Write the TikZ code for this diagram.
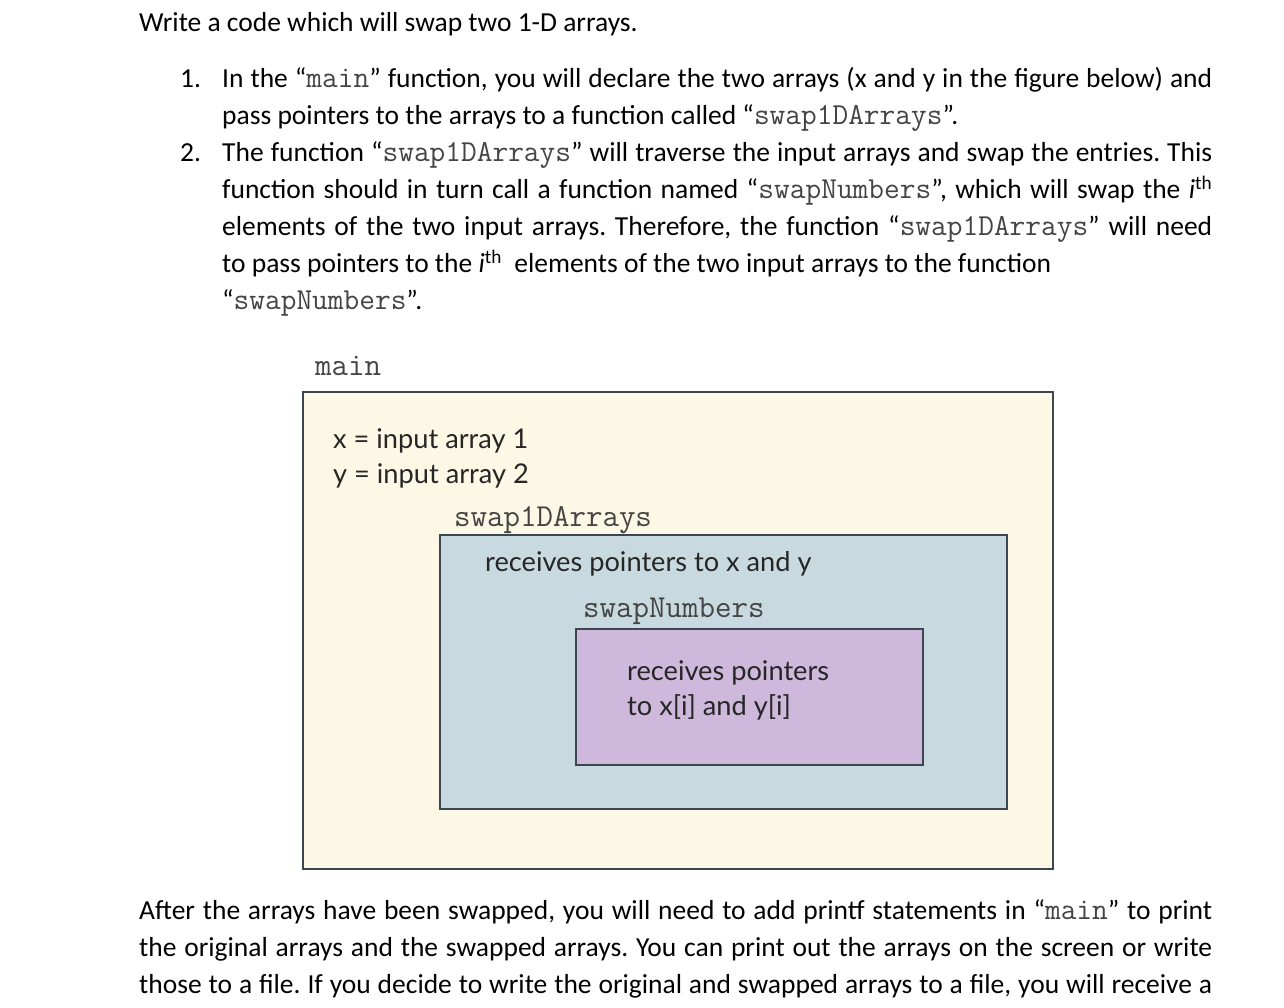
\documentclass[tikz,border=0pt]{standalone}
\usepackage{fontspec}
\setmainfont{Carlito}
\newfontfamily\boxfont{Lato}
\frenchspacing
\definecolor{beige}{HTML}{FDF8E6}
\definecolor{bluegray}{HTML}{C8DAE0}
\definecolor{lilac}{HTML}{CEB8DC}
\definecolor{edge}{HTML}{3C4650}
\definecolor{monogray}{HTML}{444444}
\newcommand{\cc}[1]{{\fontsize{30.5}{37}\ttfamily\color{monogray}#1}}
\begin{document}
\begin{tikzpicture}[x=1pt,y=-1pt,
  body/.style={anchor=base west,inner sep=0pt,font=\fontsize{27.5}{37}\selectfont},
  para/.style={body,text width=#1,align=justify},
  lbl/.style={anchor=base west,inner sep=0pt,font=\fontsize{32}{34}\ttfamily,text=monogray},
  inbox/.style={anchor=base west,inner sep=0pt,font=\fontsize{27.2}{35}\boxfont,text=black!85},
  frame/.style={draw=edge,line width=1.5pt}]
\useasboundingbox (0,0) rectangle (1284,1008);
\node[body] (title) at (139,32) {Write a code which will swap two 1-D arrays.};
\node[body] (n1) at (180,88) {1.};
\node[para=990pt] (i1) at (222,88) {In the “\cc{main}” function, you will declare the two arrays (x and y in the figure below) and\linebreak pass pointers to the arrays to a function called “\cc{swap1DArrays}”.};
\node[body] (n2) at (180,162) {2.};
\node[para=990pt] (i2) at (222,162) {The function “\cc{swap1DArrays}” will traverse the input arrays and swap the entries. This\linebreak function should in turn call a function named “\cc{swapNumbers}”, which will swap the \textit{i}\textsuperscript{th}\linebreak elements of the two input arrays. Therefore, the function “\cc{swap1DArrays}” will need\linebreak to pass pointers to the \textit{i}\textsuperscript{th} \ elements of the two input arrays to the function\newline “\cc{swapNumbers}”.};
\node[lbl] (lmain) at (315,375) {main};
\draw[frame,fill=beige] (303,392) rectangle (1053,869);
\node[inbox] (tx) at (333,448) {x = input array 1};
\node[inbox] (ty) at (333,483) {y = input array 2};
\node[lbl] (lswap) at (454,526) {swap1DArrays};
\draw[frame,fill=bluegray] (440,535) rectangle (1007,809);
\node[inbox] (tr) at (485,571) {receives pointers to x and y};
\node[lbl] (lnum) at (583,617) {swapNumbers};
\draw[frame,fill=lilac] (576,629) rectangle (923,765);
\node[inbox] (tp1) at (627,680) {receives pointers};
\node[inbox] (tp2) at (627,715) {to x[i] and y[i]};
\node[para=1073pt] (after) at (139,919) {After the arrays have been swapped, you will need to add printf statements in “\cc{main}” to print\linebreak the original arrays and the swapped arrays. You can print out the arrays on the screen or write\linebreak those to a file. If you decide to write the original and swapped arrays to a file, you will receive a\linebreak};
\end{tikzpicture}
\end{document}
